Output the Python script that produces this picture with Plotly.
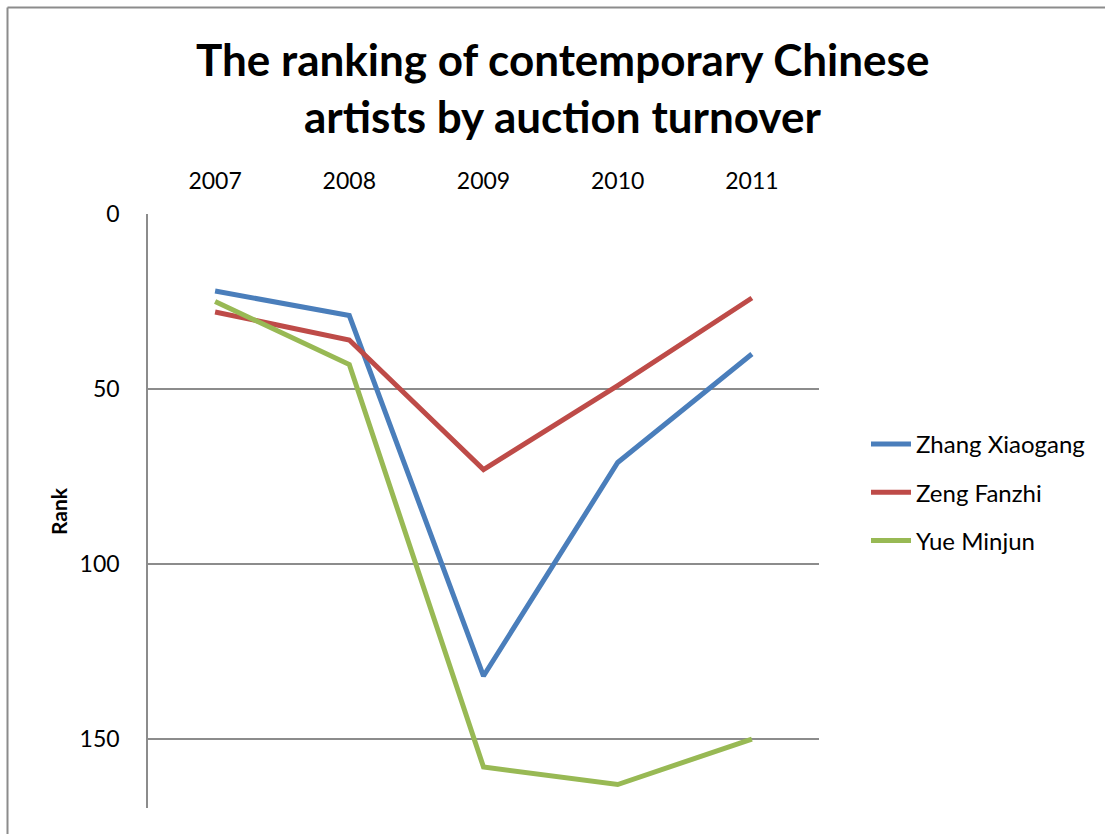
import plotly.graph_objects as go

# Auction-turnover rank per artist (lower number = better rank)
years = ["2007", "2008", "2009", "2010", "2011"]
zhang_xiaogang = [22, 29, 132, 71, 40]
zeng_fanzhi = [28, 36, 73, 49, 24]
yue_minjun = [25, 43, 158, 163, 150]

series = [
    ("Zhang Xiaogang", zhang_xiaogang, "#4a7ebb"),
    ("Zeng Fanzhi", zeng_fanzhi, "#be4b48"),
    ("Yue Minjun", yue_minjun, "#98b954"),
]

FONT = "Lato"
W, H = 1105, 834
L, R, T, B = 148, 819, 214, 808  # plot area in pixels

fig = go.Figure()
for name, vals, color in series:
    fig.add_trace(go.Scatter(
        x=years, y=vals, name=name, mode="lines",
        line=dict(color=color, width=5),
        legendgroup=name,
    ))

def px_x(p):
    return (p - L) / (R - L)

def px_y(p):
    return (B - p) / (B - T)

fig.update_layout(
    width=W, height=H,
    margin=dict(l=L, r=W - R, t=T, b=H - B),
    paper_bgcolor="white", plot_bgcolor="white",
    font=dict(family=FONT, size=23, color="black"),
    showlegend=True,
    legend=dict(
        x=px_x(866), y=px_y(422), xanchor="left", yanchor="top",
        font=dict(family=FONT, size=24), traceorder="grouped",
        tracegroupgap=14, itemwidth=40, bgcolor="rgba(0,0,0,0)",
    ),
    xaxis=dict(
        side="top", type="category", range=[-0.5, 4.5],
        showgrid=False, showline=False, zeroline=False, ticks="",
        ticklabelstandoff=19, tickfont=dict(size=23),
    ),
    yaxis=dict(
        range=[169.7, 0], tickvals=[0, 50, 100, 150],
        showgrid=True, gridcolor="#8c8c8c", gridwidth=1.5,
        showline=True, linecolor="#8c8c8c", linewidth=1.5,
        zeroline=False, ticks="", ticklabelstandoff=22,
        tickfont=dict(size=23),
    ),
    shapes=[
        # chart frame: top and left edges
        dict(type="line", xref="paper", yref="paper",
             x0=px_x(7.5), x1=px_x(W + 5), y0=px_y(7.5), y1=px_y(7.5),
             line=dict(color="#8c8c8c", width=2)),
        dict(type="line", xref="paper", yref="paper",
             x0=px_x(7.5), x1=px_x(7.5), y0=px_y(7.5), y1=px_y(H + 5),
             line=dict(color="#8c8c8c", width=2)),
    ],
    annotations=[
        dict(text="<b>The ranking of contemporary Chinese</b>", xref="paper", yref="paper",
             x=px_x(562), y=px_y(59), showarrow=False, xanchor="center", yanchor="middle",
             font=dict(family=FONT, size=44, color="black")),
        dict(text="<b>artists by auction turnover</b>", xref="paper", yref="paper",
             x=px_x(562), y=px_y(116), showarrow=False, xanchor="center", yanchor="middle",
             font=dict(family=FONT, size=44, color="black")),
        dict(text="<b>Rank</b>", xref="paper", yref="paper",
             x=px_x(58), y=px_y(511), showarrow=False, textangle=-90,
             xanchor="center", yanchor="middle",
             font=dict(family=FONT, size=21, color="black")),
    ],
)

fig.write_html("out.html")
